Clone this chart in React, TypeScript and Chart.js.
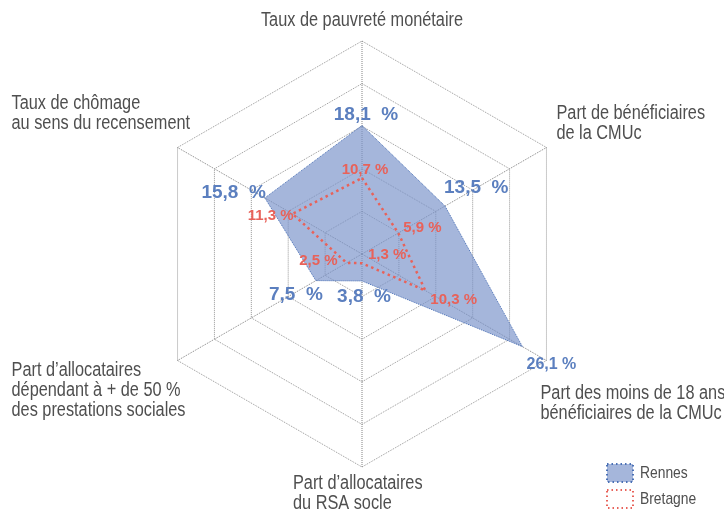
import React, { useEffect, useRef } from "react";
import { Chart, registerables } from "chart.js";

Chart.register(...registerables);

// ---- data ----
const axisLabels: string[][] = [
  ["Taux de pauvreté monétaire"],
  ["Part de bénéficiaires", "de la CMUc"],
  ["Part des moins de 18 ans", "bénéficiaires de la CMUc"],
  ["Part d’allocataires", "du RSA socle"],
  ["Part d’allocataires", "dépendant à + de 50 %", "des prestations sociales"],
  ["Taux de chômage", "au sens du recensement"],
];
const rennesValues = [18.1, 13.5, 26.1, 3.8, 7.5, 15.8];
const bretagneValues = [10.7, 5.9, 10.3, 1.3, 2.5, 11.3];
const seriesNames = ["Rennes", "Bretagne"];
const scaleMin = 0;
const scaleMax = 30;
const scaleStep = 6;

// ---- styles ----
const TEXT_GRAY = "#4f4f4f";
const BLUE = "#5b7fbf";
const BLUE_LINE = "#4a70b5";
const BLUE_FILL = "rgba(122,148,202,0.68)";
const RED = "#e8625a";
const GRID = "#969696";
const ANGLE = "#828282";
const SANS = '"Liberation Sans", Arial, sans-serif';
const NARROW_SCALE = 0.815;

type Place = { align: CanvasTextAlign; dx: number; dy: number; size: number; spaces: number };
const rennesPlace: Place[] = [
  { align: "center", dx: 4, dy: -5, size: 19, spaces: 2 },
  { align: "left", dx: -1, dy: -13, size: 19, spaces: 2 },
  { align: "left", dx: 4, dy: 22, size: 16, spaces: 1 },
  { align: "center", dx: 2, dy: 21, size: 19, spaces: 2 },
  { align: "right", dx: 7, dy: 19, size: 19, spaces: 2 },
  { align: "right", dx: 1, dy: 0, size: 19, spaces: 2 },
];
const bretagnePlace: Place[] = [
  { align: "center", dx: 3, dy: -4, size: 15, spaces: 1 },
  { align: "left", dx: 5, dy: -1, size: 15, spaces: 1 },
  { align: "left", dx: 5, dy: 13, size: 15, spaces: 1 },
  { align: "left", dx: 6, dy: -4, size: 15, spaces: 1 },
  { align: "right", dx: -9, dy: 2, size: 15, spaces: 1 },
  { align: "right", dx: 1, dy: 6, size: 15, spaces: 1 },
];
// axis label anchor: offset of the text block from the outer vertex
const axisPlace: { align: CanvasTextAlign; dx: number; dy: number }[] = [
  { align: "center", dx: 0, dy: -15 },
  { align: "left", dx: 10, dy: -29 },
  { align: "left", dx: -6, dy: 38 },
  { align: "left", dx: -69, dy: 22 },
  { align: "left", dx: -166, dy: 15 },
  { align: "left", dx: -166, dy: -39 },
];
const LINE_H = 20;

const fmt = (v: number, spaces: number) =>
  v.toFixed(1).replace(".", ",") + " ".repeat(spaces) + "%";

function narrowText(ctx: CanvasRenderingContext2D, text: string, x: number, y: number) {
  ctx.save();
  ctx.translate(x, y);
  ctx.scale(NARROW_SCALE, 1);
  ctx.fillText(text, 0, 0);
  ctx.restore();
}

const overlayPlugin = {
  id: "overlay",
  afterDatasetsDraw(chart: any) {
    const ctx: CanvasRenderingContext2D = chart.ctx;
    const scale = chart.scales.r;
    ctx.save();
    // axis labels
    ctx.fillStyle = TEXT_GRAY;
    ctx.font = `20px ${SANS}`;
    ctx.textBaseline = "alphabetic";
    axisLabels.forEach((lines, i) => {
      const p = scale.getPointPosition(i, scale.drawingArea);
      const pl = axisPlace[i];
      ctx.textAlign = pl.align;
      lines.forEach((ln, k) => {
        narrowText(ctx, ln, p.x + pl.dx, p.y + pl.dy + k * LINE_H);
      });
    });
    // value labels
    const drawVals = (dsIndex: number, values: number[], place: Place[], color: string) => {
      const meta = chart.getDatasetMeta(dsIndex);
      ctx.fillStyle = color;
      values.forEach((v, i) => {
        const el = meta.data[i];
        const pl = place[i];
        ctx.font = `bold ${pl.size}px ${SANS}`;
        ctx.textAlign = pl.align;
        ctx.fillText(fmt(v, pl.spaces), el.x + pl.dx, el.y + pl.dy);
      });
    };
    drawVals(1, bretagneValues, bretagnePlace, RED);
    drawVals(0, rennesValues, rennesPlace, BLUE);

    // legend
    const lx = chart.width - 117;
    const ly = chart.height - 46;
    const boxW = 26;
    const boxH = 18;
    ctx.lineWidth = 2;
    ctx.setLineDash([1.5, 3]);
    ctx.fillStyle = BLUE_FILL;
    ctx.fillRect(lx, ly, boxW, boxH);
    ctx.strokeStyle = BLUE_LINE;
    ctx.strokeRect(lx, ly, boxW, boxH);
    ctx.strokeStyle = RED;
    ctx.strokeRect(lx, ly + 26, boxW, boxH);
    ctx.setLineDash([]);
    ctx.fillStyle = TEXT_GRAY;
    ctx.font = `17px ${SANS}`;
    ctx.textAlign = "left";
    narrowText(ctx, seriesNames[0], lx + 33, ly + 14);
    narrowText(ctx, seriesNames[1], lx + 33, ly + 40);
    ctx.restore();
  },
};

export default function App() {
  const ref = useRef<HTMLCanvasElement | null>(null);
  useEffect(() => {
    if (!ref.current) return;
    const chart = new Chart(ref.current, {
      type: "radar",
      data: {
        labels: axisLabels,
        datasets: [
          {
            label: seriesNames[0],
            data: rennesValues,
            backgroundColor: BLUE_FILL,
            borderColor: BLUE_LINE,
            borderWidth: 1,
            borderDash: [1, 1],
            fill: true,
            pointRadius: 0,
            order: 2,
          },
          {
            label: seriesNames[1],
            data: bretagneValues,
            backgroundColor: "rgba(0,0,0,0)",
            borderColor: RED,
            borderWidth: 2.5,
            borderDash: [2.5, 3.5],
            fill: false,
            pointRadius: 0,
            order: 1,
          },
        ],
      },
      options: {
        responsive: false,
        animation: false,
        layout: { padding: { top: 41, bottom: 43, left: 0, right: 0 } },
        plugins: {
          legend: { display: false },
          tooltip: { enabled: false },
        },
        elements: { line: { tension: 0 } },
        scales: {
          r: {
            min: scaleMin,
            max: scaleMax,
            ticks: { display: false, stepSize: scaleStep },
            pointLabels: { display: false },
            grid: { color: GRID, lineWidth: 1 },
            border: { dash: [1, 1] },
            angleLines: { color: ANGLE, lineWidth: 1, borderDash: [1, 1] },
          },
        },
      },
      plugins: [overlayPlugin],
    });
    return () => chart.destroy();
  }, []);
  return (
    <div style={{ position: "fixed", left: 0, top: 0, width: 724, height: 510, background: "#fff" }}>
      <canvas ref={ref} width={724} height={510} />
    </div>
  );
}
